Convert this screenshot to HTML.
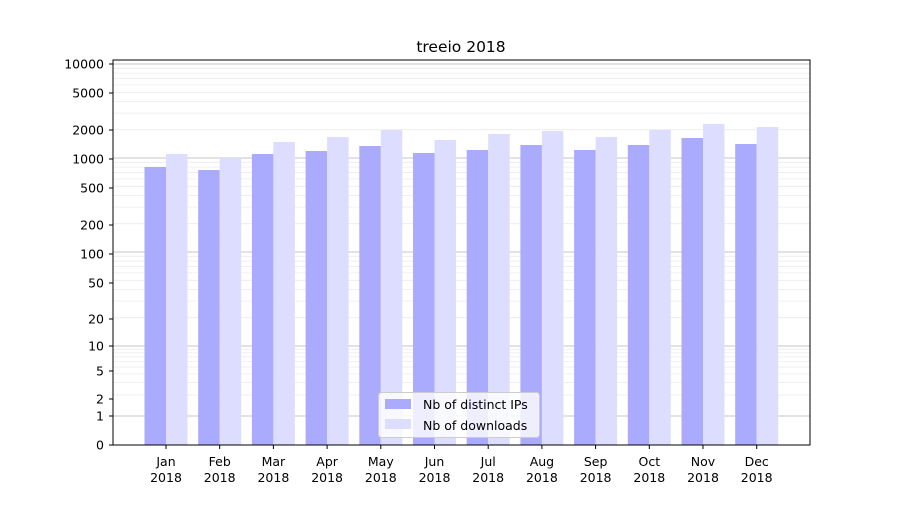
<!DOCTYPE html>
<html><head><meta charset="utf-8"><style>
body{margin:0;background:#fff;}
svg text{font-family:"DejaVu Sans","Liberation Sans",sans-serif;fill:#000;}
</style></head><body>
<svg id="s" width="900" height="500" xmlns="http://www.w3.org/2000/svg">
<rect width="900" height="500" fill="#fff"/>
<g id="grid"></g>
<g id="bars"></g>
<rect x="113" y="60" width="697" height="385" fill="none" stroke="#000" stroke-width="1"/>
<g id="ticks" font-size="12.5"></g>
<text x="461" y="52" font-size="15.5" text-anchor="middle">treeio 2018</text>
<g>
<rect x="378.5" y="392.5" width="161" height="45" rx="3" fill="#fff" fill-opacity="0.8" stroke="#ccc"/>
<rect x="385" y="399" width="26" height="10" fill="#aaaaff"/>
<text x="423" y="409" font-size="12.5">Nb of distinct IPs</text>
<rect x="385" y="419" width="26" height="10" fill="#ddddff"/>
<text x="423" y="430" font-size="12.5">Nb of downloads</text>
</g>
</svg>
<script>
var ns="http://www.w3.org/2000/svg";
function el(p,t,a,txt){var e=document.createElementNS(ns,t);for(var k in a)e.setAttribute(k,a[k]);if(txt!==undefined)e.textContent=txt;document.getElementById(p).appendChild(e);return e;}
function y(v){if(v<=0)return 445;if(v<=1)return 445-29*v;if(v<=10)return 416-70*Math.log10(v);return 346-94*Math.log10(v/10);}
for(var d=1;d<=1000;d*=10){for(var k=2;k<=9;k++){var yy=y(k*d);el("grid","line",{x1:113,x2:810,y1:yy,y2:yy,stroke:"#ececec","stroke-width":0.8});}}
[1,10,100,1000,10000].forEach(function(v){var yy=y(v);el("grid","line",{x1:113,x2:810,y1:yy,y2:yy,stroke:"#b0b0b0","stroke-width":0.8});});
var yt=[[0,445],[1,416],[2,399],[5,371],[10,346],[20,319],[50,283],[100,254],[200,225],[500,188],[1000,159],[2000,130],[5000,93],[10000,64]];
yt.forEach(function(t){el("ticks","line",{x1:109,x2:113,y1:t[1],y2:t[1],stroke:"#000"});el("ticks","text",{x:104,y:t[1]+4.5,"text-anchor":"end"},String(t[0]));});
var m=["Jan","Feb","Mar","Apr","May","Jun","Jul","Aug","Sep","Oct","Nov","Dec"];
var a=[167,170,154,151,146,153,150,145,150,145,138,144];
var b=[154,158,142,137,130,140,134,131,137,130,124,127];
for(var i=0;i<12;i++){var c=166+i*53.7;
el("bars","rect",{x:c-21.5,y:a[i],width:21.5,height:445-a[i],fill:"#aaaaff"});
el("bars","rect",{x:c,y:b[i],width:21.5,height:445-b[i],fill:"#ddddff"});
el("ticks","line",{x1:c,x2:c,y1:445,y2:449,stroke:"#000"});
el("ticks","text",{x:c,y:466,"text-anchor":"middle"},m[i]);
el("ticks","text",{x:c,y:482,"text-anchor":"middle"},"2018");}
</script>
</body></html>
